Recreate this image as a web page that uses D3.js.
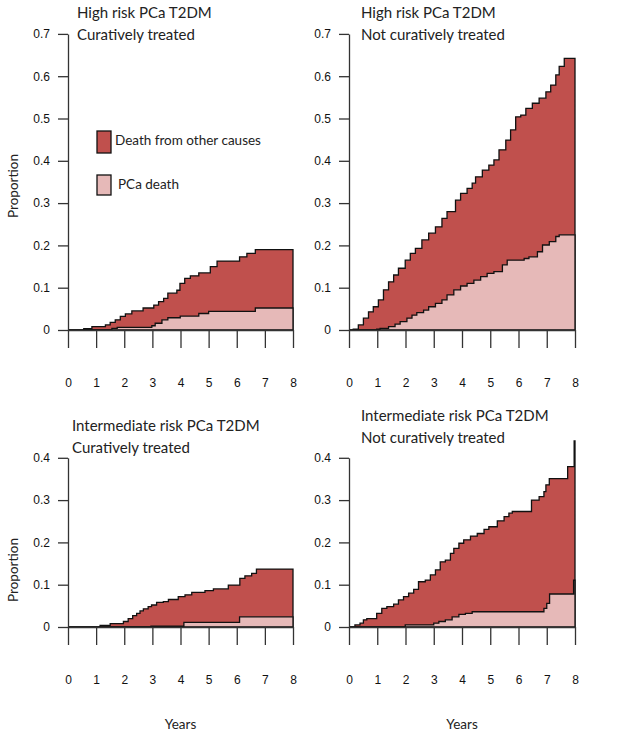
<!DOCTYPE html>
<html>
<head>
<meta charset="utf-8">
<title>Cumulative incidence PCa T2DM</title>
<script src="https://d3js.org/d3.v7.min.js"></script>
<style>
body { margin: 0; background: #fff; }
svg { display: block; }
.title { font-family: Lato, sans-serif; font-size: 15px; fill: #222; }
.lab { font-family: Lato, sans-serif; font-size: 13.5px; fill: #222; }
.axis text { font-family: "Liberation Sans", Arial, sans-serif; font-size: 12px; fill: #111; }
.axis path, .axis line { stroke: #333; stroke-width: 1.3; }
</style>
</head>
<body>
<script>
// cumulative incidence, [years, proportion]; "tot" = PCa death + other causes stacked
var highCurPca = [[0,0],[1.56,0.004],[1.75,0.006],[2.98,0.010],[3.1,0.016],[3.34,0.024],[3.55,0.029],[3.99,0.033],[4.65,0.039],[5.0,0.044],[6.66,0.052],[8,0.052]];
var highCurTot = [[0,0],[0.56,0.003],[0.85,0.008],[1.33,0.012],[1.5,0.018],[1.68,0.024],[1.86,0.032],[2.04,0.038],[2.27,0.045],[2.67,0.052],[3.05,0.059],[3.22,0.067],[3.4,0.075],[3.55,0.087],[3.87,0.094],[3.98,0.110],[4.15,0.122],[4.35,0.128],[4.65,0.135],[5.06,0.150],[5.3,0.163],[6.1,0.173],[6.36,0.181],[6.66,0.190],[8,0.190]];

var highNotPca = [[0,0],[0.98,0.002],[1.1,0.004],[1.4,0.008],[1.63,0.014],[1.81,0.020],[2.05,0.028],[2.23,0.035],[2.4,0.041],[2.64,0.047],[2.82,0.055],[3.06,0.063],[3.29,0.071],[3.47,0.083],[3.71,0.095],[3.95,0.104],[4.18,0.110],[4.42,0.118],[4.66,0.126],[4.89,0.134],[5.13,0.138],[5.43,0.154],[5.6,0.165],[6.2,0.169],[6.37,0.173],[6.67,0.185],[6.85,0.201],[7.09,0.209],[7.32,0.221],[7.44,0.225],[8,0.225]];
var highNotTot = [[0,0],[0.15,0.002],[0.33,0.012],[0.51,0.028],[0.69,0.043],[0.86,0.055],[1.04,0.071],[1.22,0.095],[1.4,0.114],[1.58,0.130],[1.75,0.146],[1.99,0.165],[2.17,0.181],[2.35,0.193],[2.58,0.213],[2.82,0.229],[3.06,0.244],[3.29,0.264],[3.47,0.280],[3.77,0.307],[3.95,0.323],[4.18,0.335],[4.36,0.347],[4.48,0.362],[4.72,0.378],[4.95,0.390],[5.13,0.402],[5.31,0.426],[5.55,0.449],[5.72,0.473],[5.9,0.504],[6.08,0.508],[6.26,0.524],[6.49,0.536],[6.73,0.548],[6.97,0.563],[7.14,0.579],[7.32,0.603],[7.44,0.623],[7.62,0.642],[8,0.642]];

var intCurPca = [[0,0],[2.95,0.002],[4.12,0.011],[6.1,0.024],[8,0.024]];
var intCurTot = [[0,0],[1.14,0.004],[1.5,0.008],[1.97,0.013],[2.14,0.020],[2.3,0.027],[2.44,0.032],[2.56,0.038],[2.68,0.043],[2.85,0.048],[2.97,0.052],[3.15,0.058],[3.39,0.060],[3.57,0.065],[3.92,0.072],[4.16,0.076],[4.4,0.082],[4.87,0.086],[5.17,0.090],[5.7,0.099],[6.11,0.115],[6.29,0.121],[6.53,0.127],[6.7,0.137],[8,0.137]];

var intNotPca = [[0,0],[1.99,0.005],[3.0,0.009],[3.18,0.013],[3.41,0.017],[3.65,0.024],[3.89,0.030],[4.12,0.032],[4.36,0.036],[6.9,0.044],[7.0,0.056],[7.1,0.078],[7.95,0.111],[8,0.111]];
var intNotTot = [[0,0],[0.21,0.005],[0.39,0.009],[0.51,0.017],[0.63,0.020],[0.98,0.032],[1.16,0.044],[1.34,0.048],[1.58,0.054],[1.75,0.064],[1.93,0.072],[2.11,0.080],[2.29,0.089],[2.46,0.107],[2.7,0.111],[2.88,0.123],[3.06,0.135],[3.23,0.154],[3.41,0.158],[3.59,0.174],[3.71,0.186],[3.89,0.198],[4.06,0.206],[4.3,0.215],[4.54,0.221],[4.78,0.231],[4.95,0.237],[5.25,0.251],[5.49,0.261],[5.66,0.269],[5.78,0.273],[6.46,0.300],[6.73,0.308],[6.9,0.320],[6.97,0.336],[7.09,0.351],[7.74,0.379],[7.97,0.440],[8,0.440]];

var yearTicks = [0,1,2,3,4,5,6,7,8];
var topTicks = [0,0.1,0.2,0.3,0.4,0.5,0.6,0.7];
var botTicks = [0,0.1,0.2,0.3,0.4];
var legendLabels = ["Death from other causes", "PCa death"];

var darkRed = "#c0504d";
var lightRed = "#e6b9b8";

var svg = d3.select("body").append("svg")
  .attr("width", 620)
  .attr("height", 747);

// one panel: x0/x1 = pixel range for years, y0 = zero line, yMax/ticks for the y axis
function panel(p) {
  var x = d3.scaleLinear().domain([0, 8]).range([p.x0, p.x1]);
  var y = d3.scaleLinear().domain([0, p.yMax]).range([p.y0, p.y0 - p.yMax * 423]);
  var g = svg.append("g");

  var area = d3.area()
    .curve(d3.curveStepAfter)
    .x(function(d) { return x(d[0]); })
    .y0(y(0))
    .y1(function(d) { return y(d[1]); });

  g.append("path").datum(p.tot).attr("d", area)
    .attr("fill", darkRed).attr("stroke", "#111").attr("stroke-width", 1.3);
  g.append("path").datum(p.pca).attr("d", area)
    .attr("fill", lightRed).attr("stroke", "#111").attr("stroke-width", 1.3);

  g.append("g").attr("class", "axis")
    .attr("transform", "translate(" + p.x0 + ",0)")
    .call(d3.axisLeft(y).tickValues(p.ticks).tickSize(10).tickSizeOuter(0).tickPadding(8)
      .tickFormat(function(d) { return d === 0 ? "0" : d3.format(".1f")(d); }));

  g.append("g").attr("class", "axis")
    .attr("transform", "translate(0," + p.y0 + ")")
    .call(d3.axisBottom(x).tickValues(yearTicks).tickSize(18).tickSizeOuter(0).tickPadding(30));

  g.append("text").attr("class", "title").attr("x", p.tx).attr("y", p.ty).text(p.t1);
  g.append("text").attr("class", "title").attr("x", p.tx).attr("y", p.ty + 22).text(p.t2);

  if (p.ylab) {
    g.append("text").attr("class", "lab")
      .attr("transform", "translate(18," + p.ylab + ") rotate(-90)")
      .attr("text-anchor", "middle").text("Proportion");
  }
  if (p.xlab) {
    g.append("text").attr("class", "lab")
      .attr("x", (p.x0 + p.x1) / 2).attr("y", 729)
      .attr("text-anchor", "middle").text("Years");
  }
}

panel({x0: 68, x1: 293, y0: 330, yMax: 0.7, ticks: topTicks, pca: highCurPca, tot: highCurTot,
  tx: 77, ty: 18, t1: "High risk PCa T2DM", t2: "Curatively treated", ylab: 186});
panel({x0: 349, x1: 575, y0: 330, yMax: 0.7, ticks: topTicks, pca: highNotPca, tot: highNotTot,
  tx: 361, ty: 18, t1: "High risk PCa T2DM", t2: "Not curatively treated"});
panel({x0: 68, x1: 293, y0: 627, yMax: 0.4, ticks: botTicks, pca: intCurPca, tot: intCurTot,
  tx: 72, ty: 431, t1: "Intermediate risk PCa T2DM", t2: "Curatively treated", ylab: 570, xlab: true});
panel({x0: 349, x1: 575, y0: 627, yMax: 0.4, ticks: botTicks, pca: intNotPca, tot: intNotTot,
  tx: 361, ty: 421, t1: "Intermediate risk PCa T2DM", t2: "Not curatively treated", xlab: true});

// legend in the first panel
var legend = svg.append("g");
var legendBoxes = [{y: 131, h: 22, fill: darkRed, tx: 115, ty: 145}, {y: 175, h: 20, fill: lightRed, tx: 118, ty: 189}];
legendBoxes.forEach(function(b, i) {
  legend.append("rect").attr("x", 97).attr("y", b.y).attr("width", 14).attr("height", b.h)
    .attr("fill", b.fill).attr("stroke", "#111").attr("stroke-width", 1.3);
  legend.append("text").attr("class", "lab").attr("x", b.tx).attr("y", b.ty).text(legendLabels[i]);
});
</script>
</body>
</html>
